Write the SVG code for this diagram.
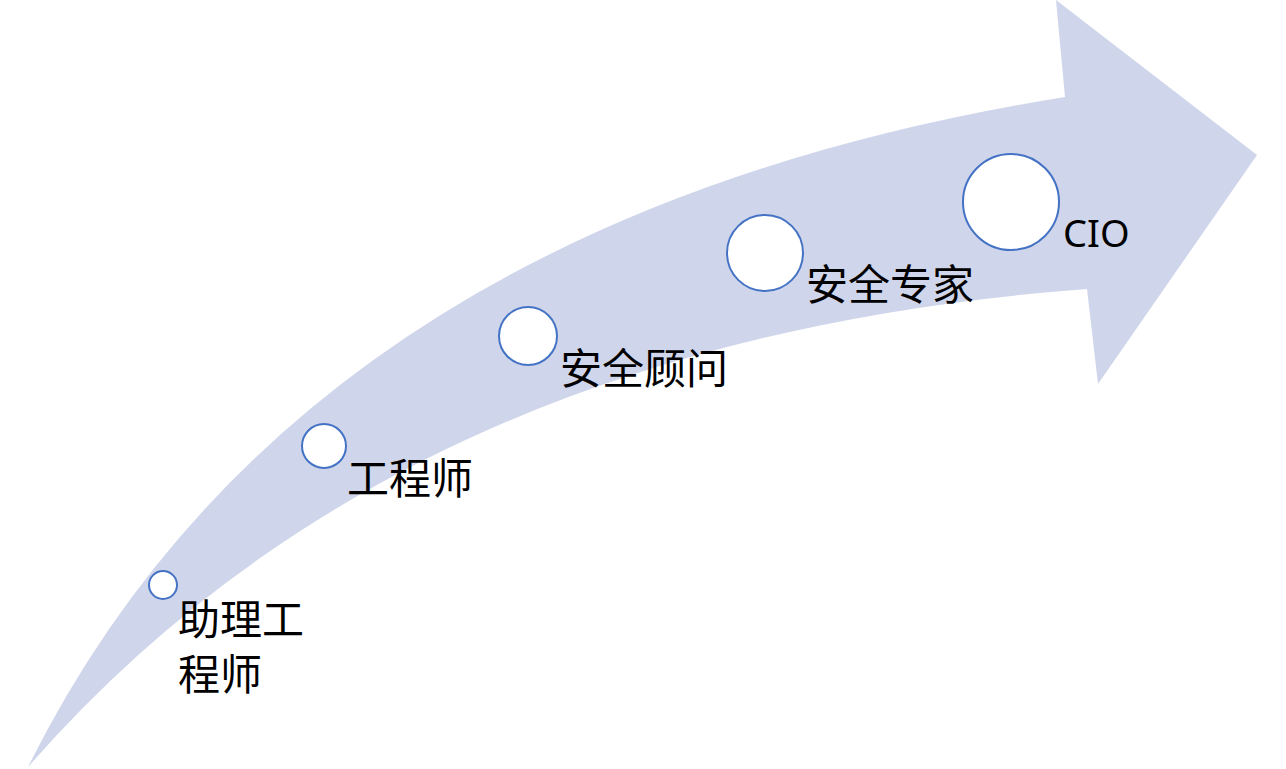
<svg xmlns="http://www.w3.org/2000/svg" width="1286" height="769" viewBox="0 0 1286 769">
<style>
.n{fill:#fff;stroke:#4472C4;stroke-width:2}
.t{font-family:"Noto Sans CJK SC","Liberation Sans",sans-serif;font-size:42px;fill:#000}
</style>
<rect width="1286" height="769" fill="#fff"/>
<g id="arrow">
<path d="M28,767 Q300,220 1065,97 L1056,0 L1257,155 L1098,384 L1087,289 Q400,340 28,767 Z" fill="#CFD5EA"/>
</g>
<g id="n1"><circle class="n" cx="163" cy="585" r="14"/><text class="t" x="178" y="635">助理工</text><text class="t" x="178" y="690">程师</text></g>
<g id="n2"><circle class="n" cx="324" cy="446" r="22"/><text class="t" x="347" y="494">工程师</text></g>
<g id="n3"><circle class="n" cx="528" cy="336" r="29"/><text class="t" x="560" y="384">安全顾问</text></g>
<g id="n4"><circle class="n" cx="765" cy="253" r="38"/><text class="t" x="806" y="300">安全专家</text></g>
<g id="n5"><circle class="n" cx="1011" cy="202" r="48"/><text x="1063" y="247" style="font-family:'Noto Sans','Liberation Sans',sans-serif;font-size:38px">CIO</text></g>
<g id="connectors"/>
</svg>
